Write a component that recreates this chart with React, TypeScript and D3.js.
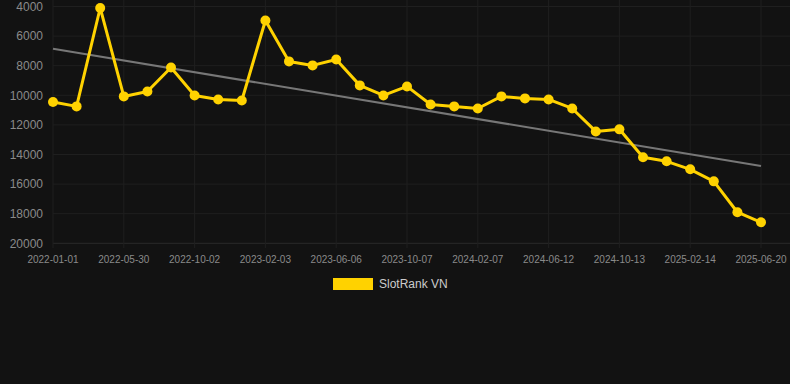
import React from "react";
import * as d3 from "d3";

const categories: string[] = [
  "2022-01-01", "2022-02-19", "2022-04-09", "2022-05-30", "2022-07-10", "2022-08-21",
  "2022-10-02", "2022-11-12", "2022-12-23", "2023-02-03", "2023-03-16", "2023-04-26",
  "2023-06-06", "2023-07-17", "2023-08-27", "2023-10-07", "2023-11-17", "2023-12-28",
  "2024-02-07", "2024-03-19", "2024-05-01", "2024-06-12", "2024-07-23", "2024-09-02",
  "2024-10-13", "2024-11-23", "2025-01-03", "2025-02-14", "2025-03-27", "2025-05-08",
  "2025-06-20",
];

const rankValues: number[] = [
  10450, 10750, 4100, 10075, 9740, 8120, 10010, 10280, 10350, 4945, 7710, 7980, 7580,
  9330, 10010, 9400, 10620, 10750, 10890, 10075, 10210, 10280, 10890, 12440, 12300,
  14190, 14460, 15000, 15815, 17900, 18580,
];

const yTicks: number[] = [4000, 6000, 8000, 10000, 12000, 14000, 16000, 18000, 20000];
const xTickLabels: string[] = [
  "2022-01-01", "2022-05-30", "2022-10-02", "2023-02-03", "2023-06-06", "2023-10-07",
  "2024-02-07", "2024-06-12", "2024-10-13", "2025-02-14", "2025-06-20",
];
const seriesName = "SlotRank VN";

const W = 790;
const H = 384;
const FONT = "'Liberation Sans', Arial, Helvetica, sans-serif";

export default function App() {
  const x = d3.scalePoint<string>().domain(categories).range([53, 761]);
  const y = d3.scaleLinear().domain([4000, 20000]).range([6.5, 243.3]);

  // linear regression trend
  const n = rankValues.length;
  const xs = d3.range(n);
  const mx = d3.mean(xs) as number;
  const my = d3.mean(rankValues) as number;
  let sxy = 0, sxx = 0;
  xs.forEach((i) => {
    sxy += (i - mx) * (rankValues[i] - my);
    sxx += (i - mx) * (i - mx);
  });
  const slope = sxy / sxx;
  const intercept = my - slope * mx;
  const trendStart = intercept;
  const trendEnd = intercept + slope * (n - 1);

  const line = d3
    .line<number>()
    .x((_, i) => x(categories[i]) as number)
    .y((d) => y(d));

  const gridColor = "#1f1f1f";

  return (
    <div style={{ position: "fixed", left: 0, top: 0, width: W, height: H, background: "#121212" }}>
      <svg width={W} height={H} style={{ display: "block", fontFamily: FONT }}>
        <rect x={0} y={0} width={W} height={H} fill="#121212" />
        {/* horizontal grid */}
        {yTicks.map((t) => (
          <line key={"h" + t} x1={53} x2={W} y1={y(t)} y2={y(t)} stroke={t === 20000 ? "#2a2a2a" : gridColor} strokeWidth={1} />
        ))}
        {/* vertical grid */}
        {xTickLabels.map((c) => (
          <line key={"v" + c} x1={x(c)} x2={x(c)} y1={0} y2={248} stroke={gridColor} strokeWidth={1} />
        ))}
        {/* y labels */}
        {yTicks.map((t) => (
          <text key={"yl" + t} x={43} y={y(t)} dy="0.35em" textAnchor="end" fontSize={12} fill="#8a8a8a">
            {t}
          </text>
        ))}
        {/* x labels */}
        {xTickLabels.map((c) => (
          <text key={"xl" + c} x={x(c)} y={263} textAnchor="middle" fontSize={10} fill="#8a8a8a">
            {c}
          </text>
        ))}
        {/* trend line */}
        <line
          x1={x(categories[0])}
          x2={x(categories[n - 1])}
          y1={y(trendStart)}
          y2={y(trendEnd)}
          stroke="#777"
          strokeWidth={2}
        />
        {/* series */}
        <path d={line(rankValues) as string} fill="none" stroke="#FFD200" strokeWidth={3} strokeLinejoin="round" />
        {rankValues.map((v, i) => (
          <circle key={"p" + i} cx={x(categories[i])} cy={y(v)} r={5} fill="#FFD200" />
        ))}
        {/* legend */}
        <rect x={333} y={278} width={40} height={12} fill="#FFD200" />
        <text x={379} y={284} dy="0.35em" fontSize={12} fill="#cccccc">
          {seriesName}
        </text>
      </svg>
    </div>
  );
}
